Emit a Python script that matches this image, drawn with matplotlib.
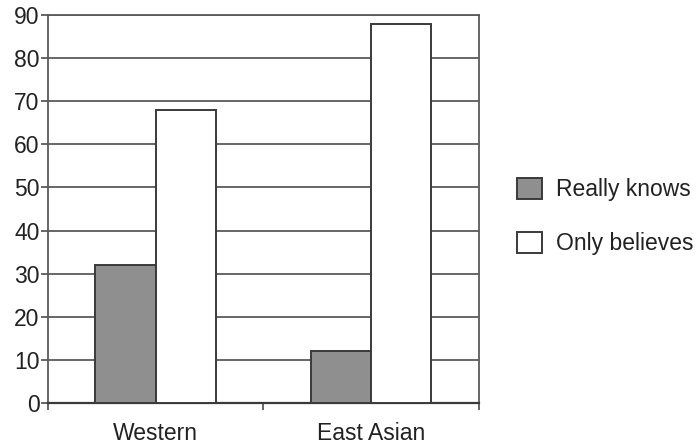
import matplotlib.pyplot as plt
import numpy as np

plt.rcParams['font.family'] = ['Liberation Sans', 'DejaVu Sans']

categories = ['Western', 'East Asian']
really_knows = [32, 12]
only_believes = [68, 88]
series_labels = ['Really knows', 'Only believes']

line_col = '#3a3a3a'
grid_col = '#5a5a5a'
fs = 16.5

fig = plt.figure(figsize=(6.96, 4.44), dpi=100)
ax = fig.add_axes([0.069, 0.0923, 0.619, 0.874])

x = np.arange(len(categories))
w = 0.28
ax.bar(x - w / 2, really_knows, w, color='#8f8f8f', edgecolor=line_col,
       linewidth=1.4, label=series_labels[0], zorder=3)
ax.bar(x + w / 2, only_believes, w, color='white', edgecolor=line_col,
       linewidth=1.4, label=series_labels[1], zorder=3)

ax.set_ylim(0, 90)
ax.set_xlim(-0.5, 1.5)
ax.set_yticks(range(0, 91, 10))
ax.yaxis.grid(True, color=grid_col, linewidth=1.3, zorder=0)

# category boundaries get the tick marks, names sit in the middle
ax.set_xticks([-0.5, 0.5, 1.5])
ax.set_xticklabels([])
ax.set_xticks(x, minor=True)
ax.set_xticklabels(categories, minor=True)
ax.tick_params(axis='x', which='minor', length=0, pad=14, labelsize=fs,
               labelcolor='#222222')
ax.tick_params(axis='x', which='major', length=5, width=1.3, color=grid_col)
ax.tick_params(axis='y', length=5, width=1.3, color=grid_col, pad=1,
               labelsize=fs, labelcolor='#222222')

for s in ax.spines.values():
    s.set_color(grid_col)
    s.set_linewidth(1.3)
ax.spines['bottom'].set_color(line_col)
ax.spines['bottom'].set_linewidth(1.6)

fig.legend(loc='upper left', bbox_to_anchor=(0.713, 0.645), frameon=False,
           fontsize=fs, handlelength=1.1, handleheight=1.0,
           handletextpad=0.6, labelspacing=1.35, labelcolor='#222222')

fig.savefig('out.png', dpi=100)
